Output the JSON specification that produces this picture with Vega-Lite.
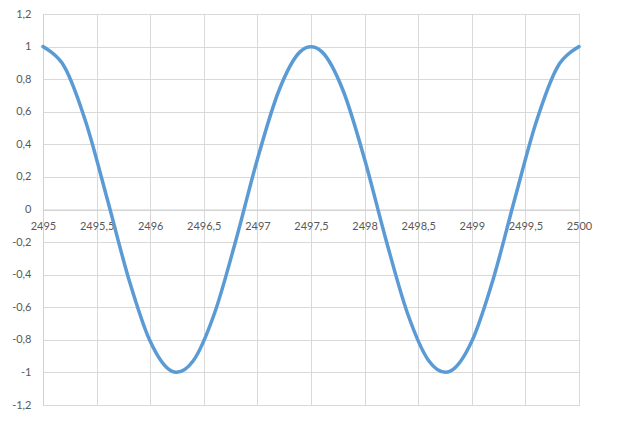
{
  "$schema": "https://vega.github.io/schema/vega-lite/v6.json",
  "width": 536,
  "height": 391,
  "autosize": {"type": "none"},
  "padding": {"left": 43, "top": 14, "right": 38, "bottom": 27},
  "background": "white",
  "config": {
    "locale": {"number": {"decimal": ",", "thousands": "", "grouping": [3], "currency": ["", ""], "minus": "-"}},
    "view": {"stroke": "#d9d9d9"},
    "axis": {
      "labelFont": "Lato",
      "labelFontSize": 11,
      "labelColor": "#595959",
      "gridColor": "#d9d9d9",
      "gridWidth": 1,
      "domainColor": "#d0d0d0",
      "ticks": false,
      "labelFlush": false,
      "labelOverlap": false,
      "labelBound": false,
      "title": null
    }
  },
  "data": {
    "values": [
      {"x": 2495.0, "y": 1.0},
      {"x": 2495.2, "y": 0.876},
      {"x": 2495.4, "y": 0.536},
      {"x": 2495.6, "y": 0.063},
      {"x": 2495.8, "y": -0.426},
      {"x": 2496.0, "y": -0.809},
      {"x": 2496.2, "y": -0.992},
      {"x": 2496.4, "y": -0.930},
      {"x": 2496.6, "y": -0.637},
      {"x": 2496.8, "y": -0.187},
      {"x": 2497.0, "y": 0.309},
      {"x": 2497.2, "y": 0.729},
      {"x": 2497.4, "y": 0.969},
      {"x": 2497.6, "y": 0.969},
      {"x": 2497.8, "y": 0.729},
      {"x": 2498.0, "y": 0.309},
      {"x": 2498.2, "y": -0.187},
      {"x": 2498.4, "y": -0.637},
      {"x": 2498.6, "y": -0.930},
      {"x": 2498.8, "y": -0.992},
      {"x": 2499.0, "y": -0.809},
      {"x": 2499.2, "y": -0.426},
      {"x": 2499.4, "y": 0.063},
      {"x": 2499.6, "y": 0.536},
      {"x": 2499.8, "y": 0.876},
      {"x": 2500.0, "y": 1.0}
    ]
  },
  "mark": {"type": "line", "color": "#5B9BD5", "strokeWidth": 3.5, "interpolate": "cardinal", "strokeCap": "round", "strokeJoin": "round"},
  "encoding": {
    "x": {
      "field": "x",
      "type": "quantitative",
      "scale": {"domain": [2495, 2500], "nice": false, "zero": false},
      "axis": {
        "values": [2495, 2495.5, 2496, 2496.5, 2497, 2497.5, 2498, 2498.5, 2499, 2499.5, 2500],
        "format": "~f",
        "offset": -195.5,
        "labelPadding": 11,
        "domain": true
      }
    },
    "y": {
      "field": "y",
      "type": "quantitative",
      "scale": {"domain": [-1.2, 1.2], "nice": false},
      "axis": {
        "values": [-1.2, -1, -0.8, -0.6, -0.4, -0.2, 0, 0.2, 0.4, 0.6, 0.8, 1, 1.2],
        "format": "~f",
        "labelPadding": 12,
        "domain": true
      }
    }
  }
}
